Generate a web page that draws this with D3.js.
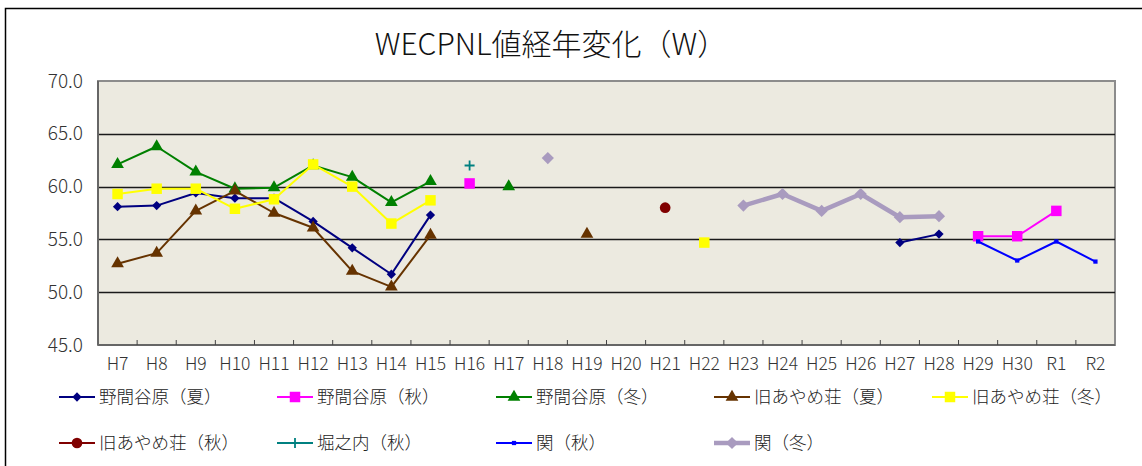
<!DOCTYPE html>
<html>
<head>
<meta charset="utf-8">
<script src="https://cdn.jsdelivr.net/npm/d3@7"></script>
<style>
    body { margin: 0; background: #fff; }
    text { font-family: "Noto Sans CJK JP", "Noto Sans", sans-serif; }
</style>
</head>
<body>
<div id="chart"></div>
<script>
var years = ["H7", "H8", "H9", "H10", "H11", "H12", "H13", "H14", "H15", "H16", "H17", "H18", "H19",
             "H20", "H21", "H22", "H23", "H24", "H25", "H26", "H27", "H28", "H29", "H30", "R1", "R2"];
var yTicks = [45, 50, 55, 60, 65, 70];

// null = no measurement that year
var nomaNatsu = [58.1, 58.2, 59.4, 58.9, 58.9, 56.7, 54.2, 51.7, 57.3, null, null, null, null,
                 null, null, null, null, null, null, null, 54.7, 55.5, null, null, null, null];
var nomaAki = [null, null, null, null, null, null, null, null, null, 60.3, null, null, null,
               null, null, null, null, null, null, null, null, null, 55.3, 55.3, 57.7, null];
var nomaFuyu = [62.1, 63.8, 61.4, 59.8, 59.9, 62.0, 60.9, 58.5, 60.5, null, 60.0, null, null,
                null, null, null, null, null, null, null, null, null, null, null, null, null];
var ayameNatsu = [52.7, 53.7, 57.7, 59.6, 57.5, 56.1, 52.0, 50.5, 55.4, null, null, null, 55.5,
                  null, null, null, null, null, null, null, null, null, null, null, null, null];
var ayameFuyu = [59.3, 59.8, 59.8, 57.9, 58.8, 62.1, 60.0, 56.5, 58.7, null, null, null, null,
                 null, null, 54.7, null, null, null, null, null, null, null, null, null, null];
var ayameAki = [null, null, null, null, null, null, null, null, null, null, null, null, null,
                null, 58.0, null, null, null, null, null, null, null, null, null, null, null];
var horinouchiAki = [null, null, null, null, null, null, null, null, null, 62.0, null, null, null,
                     null, null, null, null, null, null, null, null, null, null, null, null, null];
var sekiAki = [null, null, null, null, null, null, null, null, null, null, null, null, null,
               null, null, null, null, null, null, null, null, null, 54.8, 53.0, 54.8, 52.9];
var sekiFuyu = [null, null, null, null, null, null, null, null, null, null, null, 62.7, null,
                null, null, null, 58.2, 59.3, 57.7, 59.3, 57.1, 57.2, null, null, null, null];

var seriesNames = ["野間谷原（夏）", "野間谷原（秋）", "野間谷原（冬）", "旧あやめ荘（夏）", "旧あやめ荘（冬）",
                   "旧あやめ荘（秋）", "堀之内（秋）", "関（秋）", "関（冬）"];

var series = [
    { name: seriesNames[0], values: nomaNatsu, color: "#000080", width: 2, symbol: d3.symbolDiamond2, size: 55 },
    { name: seriesNames[1], values: nomaAki, color: "#ff00ff", width: 2, symbol: d3.symbolSquare, size: 110 },
    { name: seriesNames[2], values: nomaFuyu, color: "#008000", width: 2, symbol: d3.symbolTriangle, size: 70 },
    { name: seriesNames[3], values: ayameNatsu, color: "#663300", width: 2, symbol: d3.symbolTriangle, size: 70 },
    { name: seriesNames[4], values: ayameFuyu, color: "#ffff00", width: 2, symbol: d3.symbolSquare, size: 110 },
    { name: seriesNames[5], values: ayameAki, color: "#800000", width: 2, symbol: d3.symbolCircle, size: 90 },
    { name: seriesNames[6], values: horinouchiAki, color: "#008080", width: 2, symbol: "plus", size: 0 },
    { name: seriesNames[7], values: sekiAki, color: "#0000ff", width: 2, symbol: d3.symbolSquare, size: 18 },
    { name: seriesNames[8], values: sekiFuyu, color: "#a99bbf", width: 4.5, symbol: d3.symbolDiamond2, size: 95 }
];

var w = 1142;
var h = 466;
var plot = { left: 98, top: 81, right: 1115, bottom: 345 };

var svg = d3.select("#chart")
            .append("svg")
            .attr("width", w)
            .attr("height", h);

// outer chart frame
svg.append("rect")
   .attr("x", 5.5)
   .attr("y", 8.5)
   .attr("width", 1200)
   .attr("height", 500)
   .attr("fill", "#fff")
   .attr("stroke", "#000")
   .attr("stroke-width", 1.5);

svg.append("text")
   .attr("x", 551)
   .attr("y", 55)
   .attr("text-anchor", "middle")
   .attr("font-size", 30)
   .attr("font-weight", 300)
   .attr("fill", "#111")
   .text("WECPNL値経年変化（W）");

var xScale = d3.scaleBand()
               .domain(years)
               .range([plot.left, plot.right]);

var yScale = d3.scaleLinear()
               .domain([45, 70])
               .range([plot.bottom, plot.top]);

svg.append("rect")
   .attr("x", plot.left)
   .attr("y", plot.top)
   .attr("width", plot.right - plot.left)
   .attr("height", plot.bottom - plot.top)
   .attr("fill", "#ecEAe0")
   .attr("stroke", "#8c8c8c")
   .attr("stroke-width", 2);

// gridlines
svg.selectAll(".grid")
   .data(yTicks.filter(function(d) { return d > 45 && d < 70; }))
   .enter()
   .append("line")
   .attr("x1", plot.left)
   .attr("x2", plot.right)
   .attr("y1", function(d) { return Math.round(yScale(d)) + 0.5; })
   .attr("y2", function(d) { return Math.round(yScale(d)) + 0.5; })
   .attr("stroke", "#1a1a1a")
   .attr("stroke-width", 1.3);

svg.append("line")
   .attr("x1", plot.left)
   .attr("x2", plot.left)
   .attr("y1", plot.top)
   .attr("y2", plot.bottom)
   .attr("stroke", "#666")
   .attr("stroke-width", 2);

svg.append("line")
   .attr("x1", plot.left)
   .attr("x2", plot.right)
   .attr("y1", plot.bottom)
   .attr("y2", plot.bottom)
   .attr("stroke", "#666")
   .attr("stroke-width", 2);

var yAxis = d3.axisLeft(yScale)
              .tickValues(yTicks)
              .tickSize(0)
              .tickPadding(15)
              .tickFormat(d3.format(".1f"));

var gy = svg.append("g")
            .attr("transform", "translate(" + plot.left + ",0)")
            .call(yAxis);
gy.select(".domain").remove();
gy.selectAll("text")
  .attr("font-size", 19)
  .attr("font-weight", 300)
  .attr("font-family", "'Noto Sans CJK JP', sans-serif")
  .attr("fill", "#333");

var xAxis = d3.axisBottom(xScale)
              .tickSize(0)
              .tickPadding(13);

var gx = svg.append("g")
            .attr("transform", "translate(0," + plot.bottom + ")")
            .call(xAxis);
gx.select(".domain").remove();
gx.selectAll("text")
  .attr("font-size", 17.5)
  .attr("font-weight", 300)
  .attr("font-family", "'Noto Sans CJK JP', sans-serif")
  .attr("fill", "#333");

// small tick marks between categories, pointing up into the plot
svg.selectAll(".xtick")
   .data(years.slice(1))
   .enter()
   .append("line")
   .attr("x1", function(d) { return xScale(d); })
   .attr("x2", function(d) { return xScale(d); })
   .attr("y1", plot.bottom)
   .attr("y2", plot.bottom - 5)
   .attr("stroke", "#444")
   .attr("stroke-width", 1);

var line = d3.line()
             .defined(function(d) { return d != null; })
             .x(function(d, i) { return xScale(years[i]) + xScale.bandwidth() / 2; })
             .y(function(d) { return yScale(d); });

var drawMarker = function(g, s, x, y) {
    if (s.symbol === "plus") {
        g.append("path")
         .attr("d", "M" + (x - 5) + "," + y + "H" + (x + 5) + "M" + x + "," + (y - 5) + "V" + (y + 5))
         .attr("stroke", s.color)
         .attr("stroke-width", 1.8)
         .attr("fill", "none");
    } else {
        g.append("path")
         .attr("d", d3.symbol().type(s.symbol).size(s.size)())
         .attr("transform", "translate(" + x + "," + y + ")")
         .attr("fill", s.color);
    }
};

series.forEach(function(s) {
    var g = svg.append("g");
    g.append("path")
     .datum(s.values)
     .attr("d", line)
     .attr("fill", "none")
     .attr("stroke", s.color)
     .attr("stroke-width", s.width)
     .attr("stroke-linejoin", "round");
    s.values.forEach(function(v, i) {
        if (v == null) return;
        drawMarker(g, s, xScale(years[i]) + xScale.bandwidth() / 2, yScale(v));
    });
});

// legend, two rows of five columns
var legendX = [59, 277, 496, 714, 932];
var legendY = [397, 443];

series.forEach(function(s, i) {
    var x = legendX[i % 5];
    var y = legendY[Math.floor(i / 5)];
    var g = svg.append("g");
    g.append("line")
     .attr("x1", x)
     .attr("x2", x + 36)
     .attr("y1", y)
     .attr("y2", y)
     .attr("stroke", s.color)
     .attr("stroke-width", s.width);
    drawMarker(g, s, x + 18, y);
    g.append("text")
     .attr("x", x + 40)
     .attr("y", y)
     .attr("dy", "0.36em")
     .attr("font-size", 17.5)
     .attr("font-weight", 300)
     .attr("fill", "#222")
     .text(s.name);
});
</script>
</body>
</html>
